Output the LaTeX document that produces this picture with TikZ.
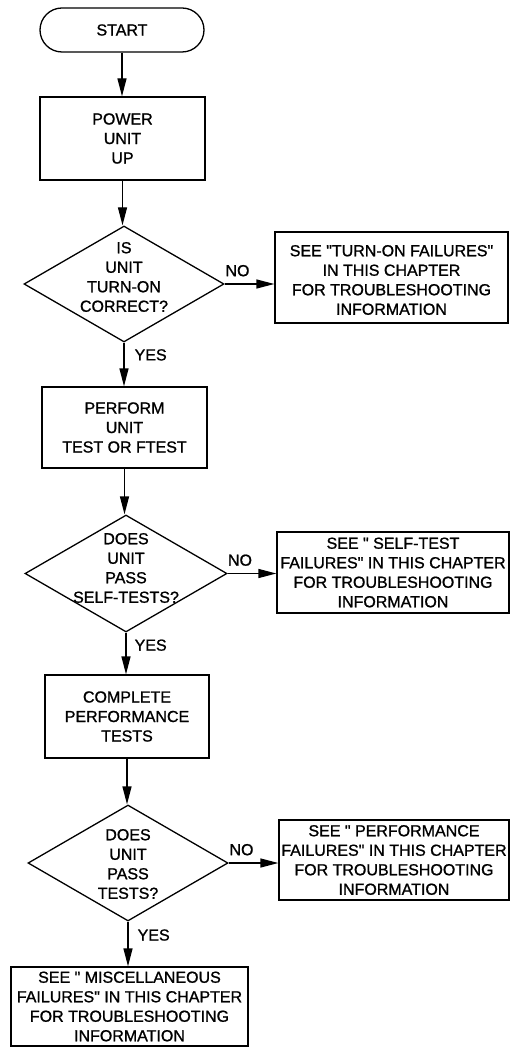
\documentclass[tikz,border=0pt]{standalone}
\usepackage{fontspec}
\setmainfont{Liberation Sans}
\newfontfamily\diagfont{Liberation Sans}[BoldFont={Liberation Sans},BoldFeatures={FakeBold=1.1}]
\usetikzlibrary{arrows.meta,shapes.geometric}
\begin{document}
\begin{tikzpicture}[x=1pt,y=-1pt,line width=1.3pt,
  txt/.style={font=\diagfont\bfseries\fontsize{16}{19.5}\selectfont,align=center,inner sep=0pt},
  boxn/.style={draw,rectangle,inner sep=0pt},
  dia/.style={draw,diamond,inner sep=0pt},
  arr/.style={-{Triangle[length=18pt,width=9pt]}},
  lbl/.style={font=\diagfont\bfseries\fontsize{16}{17}\selectfont,inner sep=0pt}]
\useasboundingbox (0,0) rectangle (510,1048);
% nodes
\node[boxn,rounded corners=22pt,minimum width=164pt,minimum height=44pt] (start) at (122,30) {};
\node[txt] (startt) at (start) {START};
\node[boxn,minimum width=165pt,minimum height=83pt] (power) at (122.5,138.5) {};
\node[txt] (powert) at (power) {POWER\\UNIT\\UP};
\node[dia,minimum width=200pt,minimum height=116pt] (d1) at (124,284) {};
\node[txt] (d1t) at (124,277) {IS\\UNIT\\TURN-ON\\CORRECT?};
\node[boxn,minimum width=233pt,minimum height=91pt] (b1) at (391.5,277.5) {};
\node[txt] (b1t) at (391.5,280) {SEE "TURN-ON FAILURES"\\IN THIS CHAPTER\\FOR TROUBLESHOOTING\\INFORMATION};
\node[boxn,minimum width=165pt,minimum height=81pt] (perf) at (124.5,427.5) {};
\node[txt] (perft) at (perf) {PERFORM\\UNIT\\TEST OR FTEST};
\node[dia,minimum width=202pt,minimum height=117pt] (d2) at (126,573.5) {};
\node[txt] (d2t) at (126,568) {DOES\\UNIT\\PASS\\SELF-TESTS?};
\node[boxn,minimum width=232pt,minimum height=81pt] (b2) at (393,572.5) {};
\node[txt] (b2t) at (b2) {SEE " SELF-TEST\\FAILURES" IN THIS CHAPTER\\FOR TROUBLESHOOTING\\INFORMATION};
\node[boxn,minimum width=164pt,minimum height=83pt] (comp) at (127,716.5) {};
\node[txt] (compt) at (comp) {COMPLETE\\PERFORMANCE\\TESTS};
\node[dia,minimum width=200pt,minimum height=116pt] (d3) at (128,863) {};
\node[txt] (d3t) at (128,864) {DOES\\UNIT\\PASS\\TESTS?};
\node[boxn,minimum width=230pt,minimum height=80pt] (b3) at (394,860) {};
\node[txt] (b3t) at (b3) {SEE " PERFORMANCE\\FAILURES" IN THIS CHAPTER\\FOR TROUBLESHOOTING\\INFORMATION};
\node[boxn,minimum width=237pt,minimum height=79pt] (b4) at (129.5,1006.5) {};
\node[txt] (b4t) at (b4) {SEE " MISCELLANEOUS\\FAILURES" IN THIS CHAPTER\\FOR TROUBLESHOOTING\\INFORMATION};
% connectors
\draw[arr] (start.south) -- (start.south |- power.north);
\draw[arr] (power.south) -- (power.south |- d1.north);
\draw[arr] (d1.east) -- (d1.east -| b1.west) node[lbl,midway,above=7pt,xshift=-12pt] (no1) {NO};
\draw[arr] (d1.south) -- (d1.south |- perf.north) node[lbl,pos=0.28,right=10pt] (yes1) {YES};
\draw[arr] (perf.south) -- (perf.south |- d2.north);
\draw[arr] (d2.east) -- (d2.east -| b2.west) node[lbl,midway,above=7pt,xshift=-12pt] (no2) {NO};
\draw[arr] (d2.south) -- (d2.south |- comp.north) node[lbl,pos=0.3,right=8pt] (yes2) {YES};
\draw[arr] (comp.south) -- (comp.south |- d3.north);
\draw[arr] (d3.east) -- (d3.east -| b3.west) node[lbl,midway,above=7pt,xshift=-12pt] (no3) {NO};
\draw[arr] (d3.south) -- (d3.south |- b4.north) node[lbl,pos=0.3,right=9pt] (yes3) {YES};
\end{tikzpicture}
\end{document}
